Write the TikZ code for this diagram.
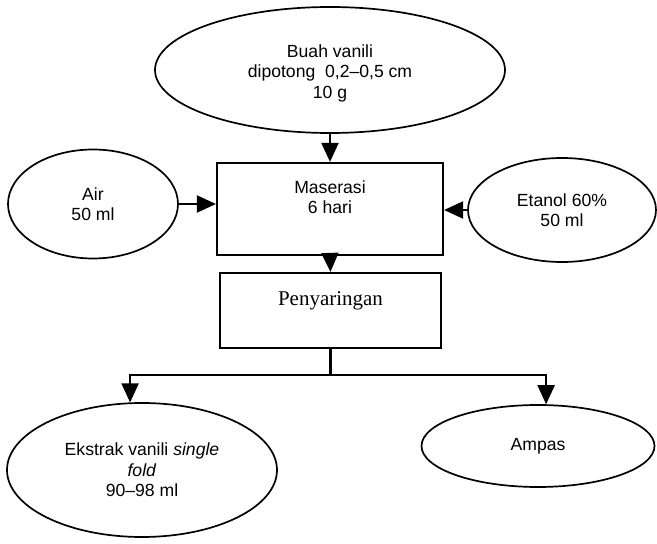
\documentclass[tikz,border=0pt]{standalone}
\usepackage{fontspec}
\setmainfont{Liberation Sans}
\newfontfamily\serifface{Liberation Serif}
\usetikzlibrary{arrows.meta,shapes.geometric}

\begin{document}
\begin{tikzpicture}[
    x=1pt,
    y=1pt,
    every node/.style={font=\fontsize{17.6}{20.5}\selectfont},
    oval/.style={ellipse, draw=black, line width=1.7pt, inner sep=0pt, align=center},
    stepbox/.style={rectangle, draw=black, line width=2.2pt, inner sep=0pt},
    boxtext/.style={align=center},
    flow/.style={-{Triangle[length=19pt,width=17pt]}, draw=black, line width=2.1pt}
  ]
    % Frame of the picture: 657 x 544 units, origin bottom left.
    \useasboundingbox (0,0) rectangle (657,544);

    % Raw material and solvents.
    \node[oval, minimum width=350pt, minimum height=126pt] (buah) at (330,474) {};
    \node[boxtext] (buahtext) at ([yshift=-3pt]buah.center)
      {Buah vanili\\dipotong\ \ 0,2--0,5 cm\\10 g};
    \node[oval, minimum width=170pt, minimum height=109pt] (air) at (93,340)
      {Air\\50 ml};
    \node[oval, minimum width=188pt, minimum height=104pt] (etanol) at (562,334)
      {Etanol 60\%\\50 ml};

    % Process steps.
    \node[stepbox, minimum width=226pt, minimum height=92pt] (maserasi) at (330,335) {};
    \node[boxtext] (maserasitext) at ([yshift=12pt]maserasi.center) {Maserasi\\6 hari};
    \node[stepbox, minimum width=221pt, minimum height=75pt] (saring) at (330.5,233.5) {};
    \node[boxtext, font=\serifface\fontsize{21}{24}\selectfont] (saringtext)
      at ([yshift=10pt]saring.center) {Penyaringan};

    % Products.
    \node[oval, minimum width=270pt, minimum height=134pt] (ekstrak) at (142,74)
      {Ekstrak vanili \textit{single}\\\textit{fold}\\90--98 ml};
    \node[oval, minimum width=233pt, minimum height=82pt] (ampas) at (538,98)
      {Ampas};

    % Flow arrows.
    \draw[flow] (buah.south) -- (maserasi.north);
    \draw[flow] (air) -- (air -| maserasi.west);
    \draw[flow] (etanol) -- (etanol -| maserasi.east);
    \draw[flow] (maserasi.south) -- (saring.north);

    % Split below the filtration step.
    \coordinate (split) at ([yshift=-26pt]saring.south);
    \draw[line width=2.1pt] (saring.south) -- (split);
    \draw[flow] (split) -| (ekstrak.100);
    \draw[flow] (split) -| (ampas.79);
  \end{tikzpicture}
\end{document}
